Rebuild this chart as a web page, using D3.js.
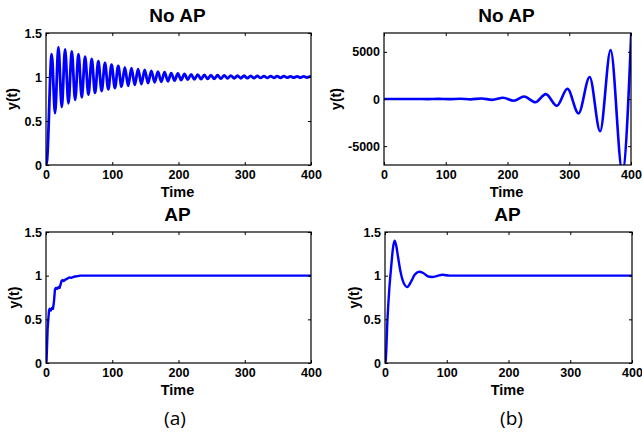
<!DOCTYPE html>
<html>
<head>
<meta charset="utf-8">
<script src="https://cdn.jsdelivr.net/npm/d3@7"></script>
<style>
  html, body { margin: 0; padding: 0; background: #fff; }
  svg { display: block; }
  .tick text { font-family: "Liberation Sans", Arial, sans-serif; font-weight: bold; font-size: 12.5px; fill: #000; }
  .tick line { stroke: #000; stroke-width: 1; }
</style>
</head>
<body>
<svg id="chart" width="642" height="435"></svg>
<script>
// ---------- data ----------
const panelTitles = ["No AP", "No AP", "AP", "AP"];
const subLabels = ["(a)", "(b)"];
const xTicks = [0, 100, 200, 300, 400];
const yTicksUnit = [0, 0.5, 1, 1.5];
const yTickLabelsUnit = ["0", "0.5", "1", "1.5"];
const yTicksBig = [-5000, 0, 5000];
const yTickLabelsBig = ["-5000", "0", "5000"];

// (a) No AP : damped oscillation, extrema
const tA = [0, 1.5, 8.6, 13.7, 18.7, 23.8, 28.8, 33.9, 38.9, 44, 49, 54, 59, 64, 69, 74, 79, 84, 89, 94,
  99, 104, 109, 114, 119, 124, 129, 134, 139, 144, 149, 154, 159, 164, 169, 174, 179, 184, 189, 194,
  199, 204, 209, 214, 219, 224, 229, 234, 239, 244, 249, 254, 259, 264, 269, 274, 279, 284, 289, 294,
  299, 304, 309, 314, 319, 324, 329, 334, 339, 344, 349, 354, 359, 364, 369, 374, 379, 384, 389, 394, 399, 400];
const yA = [0, 0.05, 1.26, 0.59, 1.34, 0.66, 1.315, 0.70, 1.29, 0.74, 1.26, 0.77, 1.23, 0.80, 1.205, 0.82, 1.18, 0.84, 1.16, 0.86,
  1.14, 0.875, 1.125, 0.89, 1.11, 0.90, 1.10, 0.91, 1.09, 0.92, 1.08, 0.93, 1.07, 0.94, 1.06, 0.945, 1.055, 0.95, 1.045, 0.96,
  1.04, 0.965, 1.035, 0.97, 1.03, 0.973, 1.027, 0.976, 1.024, 0.978, 1.022, 0.98, 1.02, 0.982, 1.018, 0.984, 1.016, 0.985, 1.015, 0.986,
  1.014, 0.987, 1.013, 0.988, 1.012, 0.989, 1.011, 0.99, 1.01, 0.991, 1.009, 0.991, 1.009, 0.992, 1.008, 0.992, 1.008, 0.993, 1.007, 0.993, 1.006, 1.005];

// (b) No AP : growing oscillation
const tB = [0, 35, 53, 70, 88, 105, 123, 140, 158, 175, 193, 210, 227, 245, 262, 280, 297, 315, 333, 350, 367, 386, 403];
const yB = [0, -3, 5, -8, 12, -18, 28, -40, 60, -90, 130, -180, 260, -340, 520, -720, 1080, -1530, 2330, -3420, 5180, -7700, 11300];

// (a) AP : staircase-like rise
const tC = [0, 0.8, 2.5, 4.5, 5.5, 7, 9, 10.5, 12, 13.5, 15, 17, 19, 20.5, 22, 23.5, 25, 27, 29, 31, 33, 35, 38, 41, 44, 48, 52, 60, 80, 400];
const yC = [0, 0.02, 0.4, 0.6, 0.62, 0.6, 0.63, 0.62, 0.7, 0.84, 0.86, 0.85, 0.87, 0.86, 0.9, 0.94, 0.95, 0.94, 0.955, 0.96, 0.97, 0.98, 0.975, 0.985, 0.99, 0.995, 1.0, 1.0, 1.0, 1.0];

// (b) AP : damped second-order response
const tD = [0, 1, 4, 7, 10, 13, 15.5, 18, 21, 25, 30, 36, 42, 48, 55, 62, 70, 76, 85, 93, 105, 400];
const yD = [0, 0.02, 0.5, 0.85, 1.1, 1.32, 1.40, 1.35, 1.22, 1.05, 0.92, 0.87, 0.93, 1.01, 1.045, 1.03, 0.99, 0.985, 0.998, 1.01, 1.0, 1.0];

// ---------- layout ----------
const svg = d3.select("#chart");
const FONT = '"Liberation Sans", Arial, Helvetica, sans-serif';

const panels = [
  { x0: 46, x1: 311, y0: 33, y1: 165, t: tA, y: yA, dom: [0, 1.5], ticks: yTicksUnit, labels: yTickLabelsUnit, title: panelTitles[0], ylab: 34, curve: d3.curveMonotoneX, lw: 2.8 },
  { x0: 384, x1: 631, y0: 33, y1: 165, t: tB, y: yB, dom: [-7000, 7000], ticks: yTicksBig, labels: yTickLabelsBig, title: panelTitles[1], ylab: 48.5, curve: d3.curveMonotoneX, lw: 2.6 },
  { x0: 46, x1: 311, y0: 232, y1: 363, t: tC, y: yC, dom: [0, 1.5], ticks: yTicksUnit, labels: yTickLabelsUnit, title: panelTitles[2], ylab: 32, curve: d3.curveLinear, lw: 2.4 },
  { x0: 385, x1: 632, y0: 232, y1: 363, t: tD, y: yD, dom: [0, 1.5], ticks: yTicksUnit, labels: yTickLabelsUnit, title: panelTitles[3], ylab: 31, curve: d3.curveMonotoneX, lw: 2.4 }
];

panels.forEach((p, i) => {
  const x = d3.scaleLinear().domain([0, 400]).range([p.x0, p.x1]);
  const y = d3.scaleLinear().domain(p.dom).range([p.y1, p.y0]);
  const g = svg.append("g");

  const clipId = "clip" + i;
  svg.append("clipPath").attr("id", clipId)
    .append("rect").attr("x", p.x0).attr("y", p.y0)
    .attr("width", p.x1 - p.x0).attr("height", p.y1 - p.y0);

  // data line
  const pts = p.t.map((t, k) => [t, p.y[k]]);
  g.append("path")
    .datum(pts)
    .attr("clip-path", `url(#${clipId})`)
    .attr("fill", "none")
    .attr("stroke", "#0000ff")
    .attr("stroke-width", p.lw)
    .attr("stroke-linejoin", "round")
    .attr("d", d3.line().x(d => x(d[0])).y(d => y(d[1])).curve(p.curve));

  // axes (inner ticks on all four sides)
  const ax = g.append("g").attr("transform", `translate(0,${p.y1})`)
    .call(d3.axisBottom(x).tickValues(xTicks).tickSize(-3).tickSizeOuter(0).tickPadding(5).tickFormat(d => String(d)));
  const ay = g.append("g").attr("transform", `translate(${p.x0},0)`)
    .call(d3.axisLeft(y).tickValues(p.ticks).tickSize(-3).tickSizeOuter(0).tickPadding(4).tickFormat((d, k) => p.labels[k]));
  const at = g.append("g").attr("transform", `translate(0,${p.y0})`)
    .call(d3.axisTop(x).tickValues(xTicks).tickSize(-3).tickSizeOuter(0).tickFormat(""));
  const ar = g.append("g").attr("transform", `translate(${p.x1},0)`)
    .call(d3.axisRight(y).tickValues(p.ticks).tickSize(-3).tickSizeOuter(0).tickFormat(""));
  [ax, ay, at, ar].forEach(a => { a.select(".domain").remove(); a.attr("font-family", null).attr("font-size", null); });

  // frame
  g.append("rect")
    .attr("x", p.x0).attr("y", p.y0)
    .attr("width", p.x1 - p.x0).attr("height", p.y1 - p.y0)
    .attr("fill", "none").attr("stroke", "#000").attr("stroke-width", 1.2);

  // title
  g.append("text")
    .attr("x", (p.x0 + p.x1) / 2 - 1).attr("y", p.y0 - 11)
    .attr("text-anchor", "middle")
    .attr("font-family", FONT).attr("font-weight", "bold").attr("font-size", 19)
    .text(p.title);

  // x label
  g.append("text")
    .attr("x", (p.x0 + p.x1) / 2 - 1).attr("y", p.y1 + 31.5)
    .attr("text-anchor", "middle")
    .attr("font-family", FONT).attr("font-weight", "bold").attr("font-size", 14.5)
    .text("Time");

  // y label
  const cy = (p.y0 + p.y1) / 2;
  const cx = p.x0 - p.ylab;
  g.append("text")
    .attr("transform", `translate(${cx + 5},${cy}) rotate(-90)`)
    .attr("text-anchor", "middle")
    .attr("font-family", FONT).attr("font-weight", "bold").attr("font-size", 14)
    .text("y(t)");
});

// sub-figure labels
svg.append("text").attr("x", 175).attr("y", 425).attr("text-anchor", "middle")
  .attr("font-family", '"Open Sans", "Noto Sans", sans-serif').attr("font-size", 19)
  .text(subLabels[0]);
svg.append("text").attr("x", 511.5).attr("y", 425).attr("text-anchor", "middle")
  .attr("font-family", '"Open Sans", "Noto Sans", sans-serif').attr("font-size", 19)
  .text(subLabels[1]);
</script>
</body>
</html>
